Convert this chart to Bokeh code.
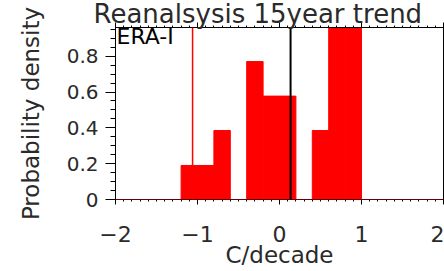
from bokeh.plotting import figure
from bokeh.models import (Range1d, LinearAxis, SingleIntervalTicker, Span, Label,
                          ColumnDataSource, CustomJSTickFormatter)
from bokeh.embed import file_html
from bokeh.resources import INLINE

# ---- data ----
bin_left = [-1.2, -1.0, -0.8, -0.6, -0.4, -0.2, 0.0, 0.2, 0.4, 0.6, 0.8]
bin_width = 0.2
density = [0.19, 0.19, 0.385, 0.0, 0.77, 0.577, 0.577, 0.0, 0.385, 0.96, 0.96]
era_mean = -1.06       # red reference line
model_mean = 0.135     # black reference line
title_text = "Reanalsysis 15year trend"
dataset_label = "ERA-I"
x_label = "C/decade"
y_label = "Probability density"

FONT = "DejaVu Sans"
TXT = "#2a2a2a"

src = ColumnDataSource(dict(
    left=bin_left,
    right=[b + bin_width for b in bin_left],
    top=density,
    bottom=[0.0] * len(bin_left),
))

p = figure(width=444, height=271, output_backend="svg", toolbar_location=None,
           x_range=Range1d(-2, 2), y_range=Range1d(0, 0.96),
           min_border_left=115, min_border_right=1, min_border_top=27,
           min_border_bottom=72, x_axis_type=None, y_axis_type=None)
p.grid.visible = False
p.outline_line_color = "black"
p.outline_line_width = 1
p.background_fill_color = "white"
p.border_fill_color = "white"

p.title.text = title_text
p.title.align = "left"
p.title.offset = -22
p.title.standoff = -12
p.title.text_font = FONT
p.title.text_font_size = "26px"
p.title.text_font_style = "normal"
p.title.text_color = TXT

p.quad(left="left", right="right", top="top", bottom="bottom", source=src,
       fill_color="#ff0000", line_color="#ff0000", line_width=1)

p.add_layout(Span(location=0, dimension="width", line_color="#cc0000", line_width=1))
p.add_layout(Span(location=era_mean, dimension="height", line_color="#ff0000", line_width=1.5))
p.add_layout(Span(location=model_mean, dimension="height", line_color="black", line_width=2))

# axes
xb = LinearAxis(ticker=SingleIntervalTicker(interval=1, num_minor_ticks=10))
xb.axis_label = x_label
xb.major_tick_out = 5
xb.major_tick_in = 0
xb.minor_tick_out = 2
xb.minor_tick_in = 0
xb.major_label_standoff = 21
xb.axis_label_standoff = -3
xb.major_label_text_font = FONT
xb.major_label_text_font_size = "22px"
xb.major_label_text_color = TXT
xb.axis_label_text_font = FONT
xb.axis_label_text_font_size = "23px"
xb.axis_label_text_font_style = "normal"
xb.axis_label_text_color = TXT
p.add_layout(xb, "below")

xt = LinearAxis(ticker=SingleIntervalTicker(interval=1, num_minor_ticks=10),
                formatter=CustomJSTickFormatter(code="return ''"))
xt.major_tick_out = 5
xt.major_tick_in = 0
xt.minor_tick_out = 2
xt.minor_tick_in = 0
xt.major_label_standoff = 0
p.add_layout(xt, "above")

yl = LinearAxis(ticker=SingleIntervalTicker(interval=0.2, num_minor_ticks=4))
yl.axis_label = y_label
yl.major_tick_out = 10
yl.major_tick_in = 0
yl.minor_tick_out = 5
yl.minor_tick_in = 0
yl.major_label_standoff = 7
yl.axis_label_standoff = 20
yl.major_label_text_font = FONT
yl.major_label_text_font_size = "20px"
yl.major_label_text_color = TXT
yl.axis_label_text_font = FONT
yl.axis_label_text_font_size = "23px"
yl.axis_label_text_font_style = "normal"
yl.axis_label_text_color = TXT
p.add_layout(yl, "left")

p.add_layout(Label(x=-2, y=0.96, text=dataset_label, text_baseline="top",
                   x_offset=1, y_offset=4, text_font=FONT, text_font_size="22px",
                   text_color="black"))

open("out.html", "w").write(file_html(p, INLINE))
